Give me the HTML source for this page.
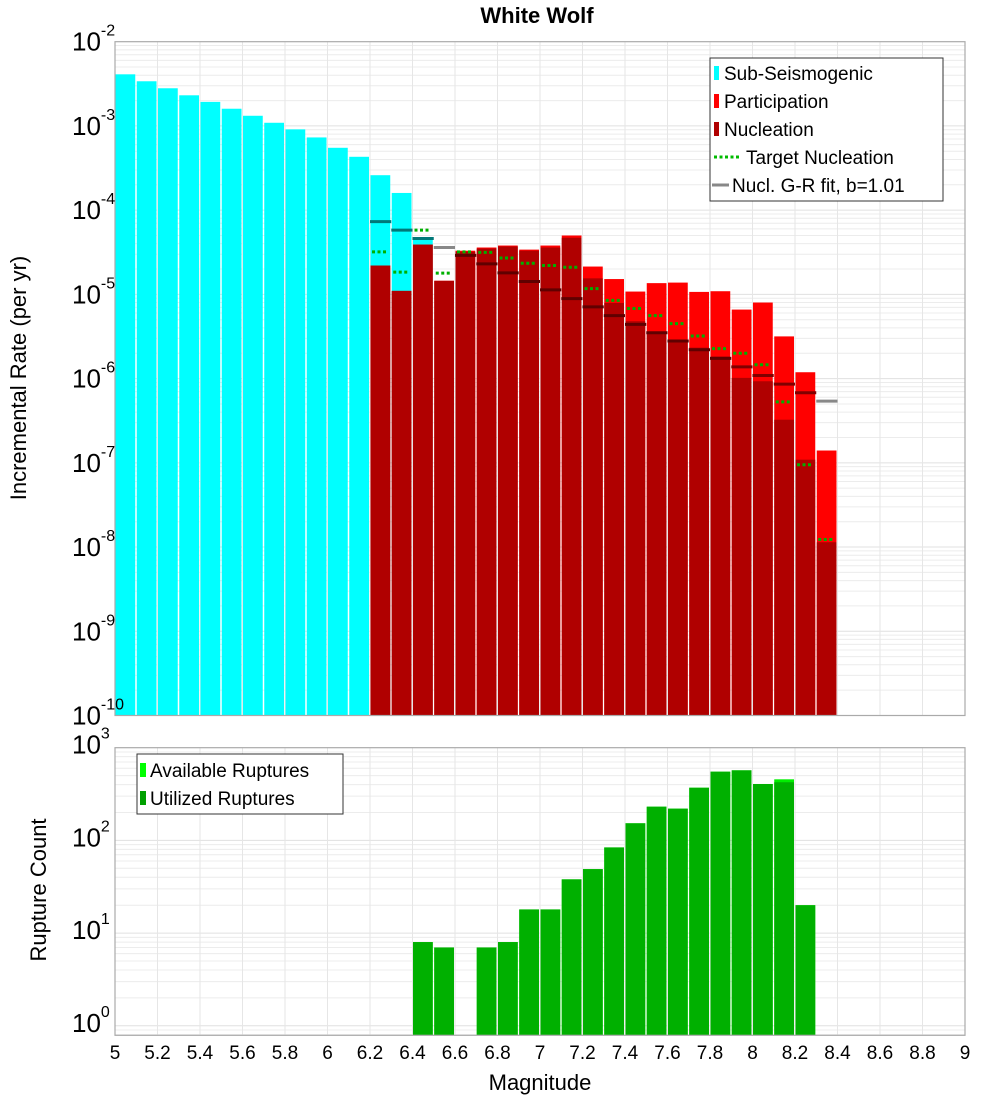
<!DOCTYPE html>
<html><head><meta charset="utf-8"><style>
html,body{margin:0;padding:0;background:#fff;}
svg{display:block;font-family:"Liberation Sans","DejaVu Sans",sans-serif;}
</style></head><body>
<svg id="chart" width="1000" height="1100" viewBox="0 0 1000 1100" xmlns="http://www.w3.org/2000/svg">
<text x="537" y="23" font-size="22" font-weight="bold" text-anchor="middle">White Wolf</text>
<g id="top-grid"></g>
<g id="bot-grid"></g>
<g id="top-bars"></g>
<g id="bot-bars"></g>
<g id="axes"></g>
<text transform="translate(26,378) rotate(-90)" font-size="22" text-anchor="middle">Incremental Rate (per yr)</text>
<text transform="translate(46,890) rotate(-90)" font-size="22" text-anchor="middle">Rupture Count</text>
<text x="540" y="1090" font-size="22" text-anchor="middle">Magnitude</text>
<g>
<rect x="710" y="58" width="233" height="143" fill="#fff" stroke="#333" stroke-width="1"/>
<rect x="714" y="66" width="5" height="14" fill="#00ffff"/><text x="724" y="80" font-size="19">Sub-Seismogenic</text>
<rect x="714" y="94" width="5" height="14" fill="#ff0000"/><text x="724" y="108" font-size="19">Participation</text>
<rect x="714" y="122" width="5" height="14" fill="#b00000"/><text x="724" y="136" font-size="19">Nucleation</text>
<line x1="714" y1="157" x2="740" y2="157" stroke="#00bb00" stroke-width="3" stroke-dasharray="3,2.5"/><text x="746" y="164" font-size="19">Target Nucleation</text>
<line x1="712" y1="185" x2="729" y2="185" stroke="#888" stroke-width="3"/><text x="732" y="192" font-size="19">Nucl. G-R fit, b=1.01</text>
</g>
<g>
<rect x="137" y="754" width="206" height="60" fill="#fff" stroke="#333" stroke-width="1"/>
<rect x="140" y="763" width="6" height="14" fill="#00ff00"/><text x="150" y="777" font-size="19">Available Ruptures</text>
<rect x="140" y="791" width="6" height="14" fill="#00a000"/><text x="150" y="805" font-size="19">Utilized Ruptures</text>
</g>
</svg>
<script>
const subMags = [5.0,5.1,5.2,5.3,5.4,5.5,5.6,5.7,5.8,5.9,6.0,6.1,6.2,6.3,6.4];
const subRates = [4.1e-3,3.39e-3,2.8e-3,2.31e-3,1.93e-3,1.6e-3,1.32e-3,1.09e-3,9.1e-4,7.3e-4,5.5e-4,4.3e-4,2.6e-4,1.6e-4,4.8e-5];
const supraMags = [6.2,6.3,6.4,6.5,6.6,6.7,6.8,6.9,7.0,7.1,7.2,7.3,7.4,7.5,7.6,7.7,7.8,7.9,8.0,8.1,8.2,8.3];
const partRates = [2.2e-5,1.1e-5,3.9e-5,1.45e-5,3.3e-5,3.6e-5,3.8e-5,3.4e-5,3.8e-5,5.0e-5,2.14e-5,1.52e-5,1.08e-5,1.36e-5,1.38e-5,1.07e-5,1.09e-5,6.6e-6,8.0e-6,3.17e-6,1.19e-6,1.4e-7];
const nuclRates = [2.2e-5,1.1e-5,3.9e-5,1.45e-5,3.2e-5,3.5e-5,3.7e-5,3.3e-5,3.6e-5,4.7e-5,1.55e-5,7.9e-6,4.8e-6,3.6e-6,2.9e-6,2.33e-6,1.83e-6,1.02e-6,9.3e-7,3.25e-7,1.09e-7,1.14e-8];
const targetRates = [3.2e-5,1.84e-5,5.8e-5,1.79e-5,3.2e-5,3.15e-5,2.7e-5,2.34e-5,2.2e-5,2.1e-5,1.17e-5,8.5e-6,6.8e-6,5.6e-6,4.5e-6,3.2e-6,2.27e-6,2.0e-6,1.46e-6,5.3e-7,9.5e-8,1.23e-8];
const grRates = [7.3e-5,5.8e-5,4.6e-5,3.6e-5,2.9e-5,2.3e-5,1.8e-5,1.42e-5,1.13e-5,8.9e-6,7.1e-6,5.6e-6,4.4e-6,3.5e-6,2.8e-6,2.2e-6,1.74e-6,1.38e-6,1.09e-6,8.6e-7,6.8e-7,5.4e-7];
const rupMags = [6.4,6.5,6.7,6.8,6.9,7.0,7.1,7.2,7.3,7.4,7.5,7.6,7.7,7.8,7.9,8.0,8.1,8.2];
const availCounts = [8,7,7,8,18,18,38,49,84,153,231,220,370,551,570,406,456,20];
const usedCounts = [8,7,7,8,18,18,38,49,84,153,231,220,370,551,570,406,424,20];
const xTicks = [5,5.2,5.4,5.6,5.8,6,6.2,6.4,6.6,6.8,7,7.2,7.4,7.6,7.8,8,8.2,8.4,8.6,8.8,9];
const topExps = [-2,-3,-4,-5,-6,-7,-8,-9,-10];
const botExps = [3,2,1,0];

const NS='http://www.w3.org/2000/svg';
const X0=115, X1=965;
const x = m => X0 + (m-5)*(X1-X0)/4;
const TT=41.7, TB=715.5;
const yTop = v => TT + (-2 - Math.log10(v))*(TB-TT)/8;
const BT=747.7, BB=1035.3, BDEC=92.7;
const yBot = v => BT + (3 - Math.log10(v))*BDEC;
function mk(tag, parent, attrs){const e=document.createElementNS(NS,tag);for(const k in attrs)e.setAttribute(k,attrs[k]);parent.appendChild(e);return e;}
const tg=document.getElementById('top-grid'), bg=document.getElementById('bot-grid');
const tb=document.getElementById('top-bars'), bb=document.getElementById('bot-bars'), ax=document.getElementById('axes');
// grids
for(let d=-10; d<-2; d++){ for(let k=1;k<10;k++){ const v=k*Math.pow(10,d); const y=yTop(v); if(y<TT-0.5)continue;
  const l=mk('line',tg,{x1:X0,x2:X1,y1:y,y2:y,stroke:k===1?'#e0e0e0':'#ececec','stroke-width':1});
  
  }}
for(let d=-1; d<3; d++){ for(let k=1;k<10;k++){ const v=k*Math.pow(10,d); const y=yBot(v); if(y>BB||y<BT-0.5)continue;
  const l=mk('line',bg,{x1:X0,x2:X1,y1:y,y2:y,stroke:k===1?'#e0e0e0':'#ececec','stroke-width':1});
  
  }}
xTicks.forEach(t=>{ const xx=x(t);
  const a=mk('line',tg,{x1:xx,x2:xx,y1:TT,y2:TB,stroke:'#e6e6e6'});
  
  
  const b=mk('line',bg,{x1:xx,x2:xx,y1:BT,y2:BB,stroke:'#e6e6e6'});
  
  
  const tx=mk('text',ax,{x:xx,y:1059,'font-size':19,'text-anchor':'middle'}); tx.textContent=String(t);
  
  
});
const bw=(X1-X0)/40;
// top bars
subMags.forEach((m,i)=>{ const y=yTop(subRates[i]);
  const r=mk('rect',tb,{x:x(m)+0.5,y:y,width:bw-1.5,height:TB-y,fill:'#00ffff'});
  
  });
supraMags.forEach((m,i)=>{ const y=yTop(partRates[i]);
  const r=mk('rect',tb,{x:x(m)+0.5,y:y,width:bw-1.5,height:TB-y,fill:'#ff0000'});
  
  });
supraMags.forEach((m,i)=>{ const y=yTop(nuclRates[i]);
  const r=mk('rect',tb,{x:x(m)+0.5,y:y,width:bw-1.5,height:TB-y,fill:'#b00000'});
  
  });
supraMags.forEach((m,i)=>{ const y=yTop(grRates[i]);
  const inBar = grRates[i] < Math.max(nuclRates[i], partRates[i], (subMags.includes(m)?subRates[subMags.indexOf(m)]:0));
  const c = grRates[i] < nuclRates[i] ? '#600000' : (subMags.includes(m) && grRates[i]<subRates[subMags.indexOf(m)] ? '#007878' : (grRates[i]<partRates[i]?'#800000':'#888888'));
  const l=mk('line',tb,{x1:x(m),x2:x(m)+bw,y1:y,y2:y,stroke:c,'stroke-width':3});
  
  });
supraMags.forEach((m,i)=>{ const y=yTop(targetRates[i]);
  const l=mk('line',tb,{x1:x(m)+2,x2:x(m)+bw-3,y1:y,y2:y,stroke:'#00b000','stroke-width':3,'stroke-dasharray':'3,2.5'});
  
  });
// bottom bars
rupMags.forEach((m,i)=>{ const y=yBot(availCounts[i]);
  const r=mk('rect',bb,{x:x(m)+0.5,y:y,width:bw-1.5,height:BB-y,fill:'#00ee00'});
  
  });
rupMags.forEach((m,i)=>{ const y=yBot(usedCounts[i]);
  const r=mk('rect',bb,{x:x(m)+0.5,y:y,width:bw-1.5,height:BB-y,fill:'#00b000'});
  
  });
// frames
const f1=mk('rect',ax,{x:X0,y:TT,width:X1-X0,height:TB-TT,fill:'none',stroke:'#aaa','stroke-width':1.2});


const f2=mk('rect',ax,{x:X0,y:BT,width:X1-X0,height:BB-BT,fill:'none',stroke:'#aaa','stroke-width':1.2});


function expLabel(yy, e, nm){
  const t=mk('text',ax,{x:72,y:yy+9,'font-size':26}); t.textContent='10';
  
  
  const s=mk('tspan',t,{dy:-15,'font-size':16}); s.textContent=String(e);
}
topExps.forEach(e=>expLabel(yTop(Math.pow(10,e)),e,'y-tick-label-top'));
botExps.forEach(e=>expLabel(yBot(Math.pow(10,e))-3,e,'y-tick-label-bottom'));
</script>
</body></html>
